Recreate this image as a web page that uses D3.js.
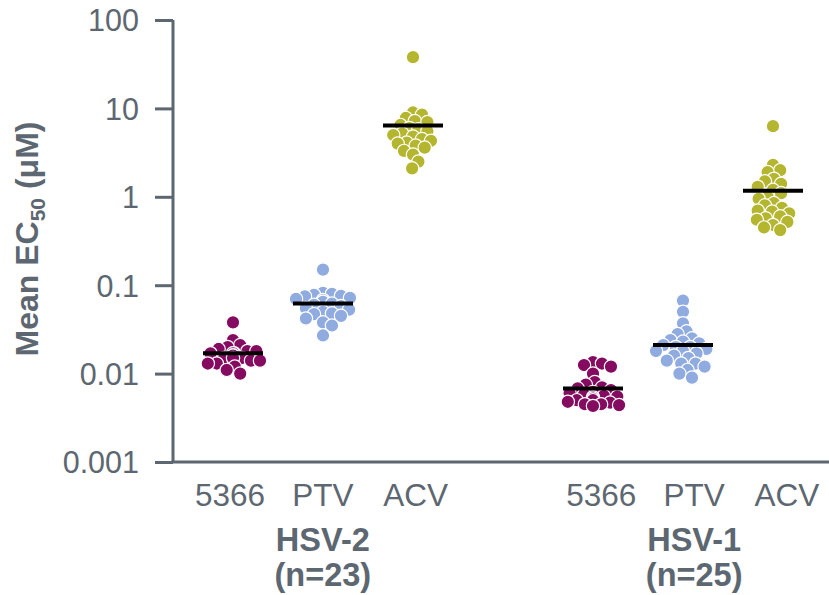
<!DOCTYPE html>
<html>
<head>
<meta charset="utf-8">
<script src="https://cdn.jsdelivr.net/npm/d3@7"></script>
<style>
  html, body { margin: 0; padding: 0; background: #fff; }
  svg { display: block; }
  text { font-family: "Liberation Sans", Arial, sans-serif; }
</style>
</head>
<body>
<svg id="chart" width="829" height="595"></svg>
<script>
// ---------- data ----------
const drugs = ["5366", "PTV", "ACV"];
const groups = ["HSV-2", "HSV-1"];
const groupN = ["(n=23)", "(n=25)"];
const tickValues = [0.001, 0.01, 0.1, 1, 10, 100];
const tickLabels = ["0.001", "0.01", "0.1", "1", "10", "100"];

const hsv2_5366 = [0.038, 0.024, 0.021, 0.020, 0.019, 0.018, 0.018, 0.017, 0.017, 0.017, 0.016, 0.016,
  0.016, 0.015, 0.015, 0.015, 0.014, 0.014, 0.013, 0.013, 0.012, 0.011, 0.010];
const hsv2_PTV = [0.15, 0.082, 0.080, 0.078, 0.076, 0.075, 0.072, 0.070, 0.068, 0.065, 0.062, 0.060,
  0.058, 0.055, 0.053, 0.050, 0.048, 0.047, 0.045, 0.042, 0.038, 0.035, 0.027];
const hsv2_ACV = [38, 9.0, 8.5, 7.8, 7.2, 7.0, 6.5, 6.0, 5.8, 5.5, 5.2, 5.0, 4.8, 4.5, 4.3, 4.1, 4.0,
  3.8, 3.6, 3.3, 3.0, 2.5, 2.1];
const hsv1_5366 = [0.0135, 0.013, 0.0125, 0.012, 0.010, 0.008, 0.0075, 0.0070, 0.0068, 0.0065, 0.0062,
  0.0060, 0.0058, 0.0056, 0.0055, 0.0054, 0.0052, 0.0050, 0.0050, 0.0048, 0.0047, 0.0045, 0.0045, 0.0044, 0.0043];
const hsv1_PTV = [0.067, 0.050, 0.037, 0.030, 0.028, 0.025, 0.024, 0.023, 0.022, 0.021, 0.020, 0.020,
  0.019, 0.018, 0.018, 0.017, 0.016, 0.015, 0.014, 0.013, 0.013, 0.012, 0.011, 0.010, 0.009];
const hsv1_ACV = [6.3, 2.3, 2.0, 1.9, 1.6, 1.5, 1.4, 1.3, 1.2, 1.1, 1.0, 0.95, 0.85, 0.80, 0.75, 0.70,
  0.68, 0.65, 0.60, 0.57, 0.55, 0.52, 0.48, 0.45, 0.42];

const hsv2Medians = [0.0170, 0.062, 6.4];
const hsv1Medians = [0.0068, 0.021, 1.17];

const drugColors = ["#850b60", "#8fabe0", "#b5b630"];

// ---------- layout ----------
const svg = d3.select("#chart");
const axisColor = "#5d6771";
const textColor = "#5d6771";

const y = d3.scaleLog().domain([0.001, 100]).range([462, 20]);
// cluster slots: 0,1,2 for HSV-2; 4,5,6 for HSV-1
const x = d3.scaleLinear().domain([0, 6]).range([233, 773]);
const xLab = d3.scaleLinear().domain([0, 6]).range([230, 787]);

const series = [
  { g: 0, d: 0, vals: hsv2_5366, med: hsv2Medians[0] },
  { g: 0, d: 1, vals: hsv2_PTV, med: hsv2Medians[1] },
  { g: 0, d: 2, vals: hsv2_ACV, med: hsv2Medians[2] },
  { g: 1, d: 0, vals: hsv1_5366, med: hsv1Medians[0] },
  { g: 1, d: 1, vals: hsv1_PTV, med: hsv1Medians[1] },
  { g: 1, d: 2, vals: hsv1_ACV, med: hsv1Medians[2] }
];
const slot = s => s.g * 4 + s.d;

const R = 6.7;
const minDist = R * 1.3;
const maxHalf = 27;

function beeswarm(vals, cx) {
  const placed = [];
  const sorted = vals.map((v, i) => ({ v, i, py: y(v) }));
  sorted.forEach(p => {
    let best = null;
    for (let k = 0; k <= 60; k++) {
      const cands = k === 0 ? [0] : [k * 0.9, -k * 0.9];
      for (const off of cands) {
        if (Math.abs(off) > maxHalf) continue;
        const ok = placed.every(q => Math.hypot(q.px - (cx + off), q.py - p.py) >= minDist);
        if (ok) { best = off; break; }
      }
      if (best !== null) break;
    }
    if (best === null) best = 0;
    p.px = cx + best;
    placed.push(p);
  });
  return placed;
}

// axes
const yAxis = d3.axisLeft(y)
  .tickValues(tickValues)
  .tickFormat((d, i) => tickLabels[i])
  .tickSize(18)
  .tickPadding(16);

const gy = svg.append("g").attr("transform", "translate(173,0)").call(yAxis);
gy.select(".domain").attr("stroke", axisColor).attr("stroke-width", 3)
  .attr("d", "M0," + y(100) + "V" + y(0.001));
gy.selectAll(".tick line").attr("stroke", axisColor).attr("stroke-width", 3);
gy.selectAll(".tick text").attr("fill", textColor).style("font-size", "30.5px")
  .style("font-family", "'Liberation Sans', Arial, sans-serif").attr("dy", "0.36em");

// x axis line
svg.append("line")
  .attr("x1", 171.5).attr("x2", 829)
  .attr("y1", y(0.001)).attr("y2", y(0.001))
  .attr("stroke", axisColor).attr("stroke-width", 3);

// points
series.forEach(s => {
  const cx = x(slot(s));
  const pts = beeswarm(s.vals, cx);
  svg.append("g").selectAll("circle").data(pts).join("circle")
    .attr("cx", p => p.px).attr("cy", p => p.py).attr("r", R)
    .attr("fill", drugColors[s.d]).attr("stroke", "#fff").attr("stroke-width", 1.2);
  svg.append("line")
    .attr("x1", cx - 30).attr("x2", cx + 30)
    .attr("y1", y(s.med)).attr("y2", y(s.med))
    .attr("stroke", "#000").attr("stroke-width", 4);
});

// category labels
series.forEach(s => {
  svg.append("text")
    .attr("x", xLab(slot(s))).attr("y", 506)
    .attr("text-anchor", "middle").attr("fill", textColor)
    .style("font-size", "31.5px").text(drugs[s.d]);
});
groups.forEach((g, i) => {
  const cx = xLab(i * 4 + 1);
  svg.append("text").attr("x", cx).attr("y", 551)
    .attr("text-anchor", "middle").attr("fill", textColor)
    .style("font-size", "32.5px").style("font-weight", "bold").text(g);
  svg.append("text").attr("x", cx).attr("y", 586)
    .attr("text-anchor", "middle").attr("fill", textColor)
    .style("font-size", "32.5px").style("font-weight", "bold").text(groupN[i]);
});

// y title
const yt = svg.append("text")
  .attr("transform", "translate(38,239) rotate(-90)")
  .attr("text-anchor", "middle").attr("fill", textColor)
  .style("font-size", "32px").style("font-weight", "bold");
yt.append("tspan").text("Mean EC");
yt.append("tspan").attr("dy", 7).style("font-size", "21px").text("50");
yt.append("tspan").attr("dy", -7).text(" (\u03bcM)");
</script>
</body>
</html>
